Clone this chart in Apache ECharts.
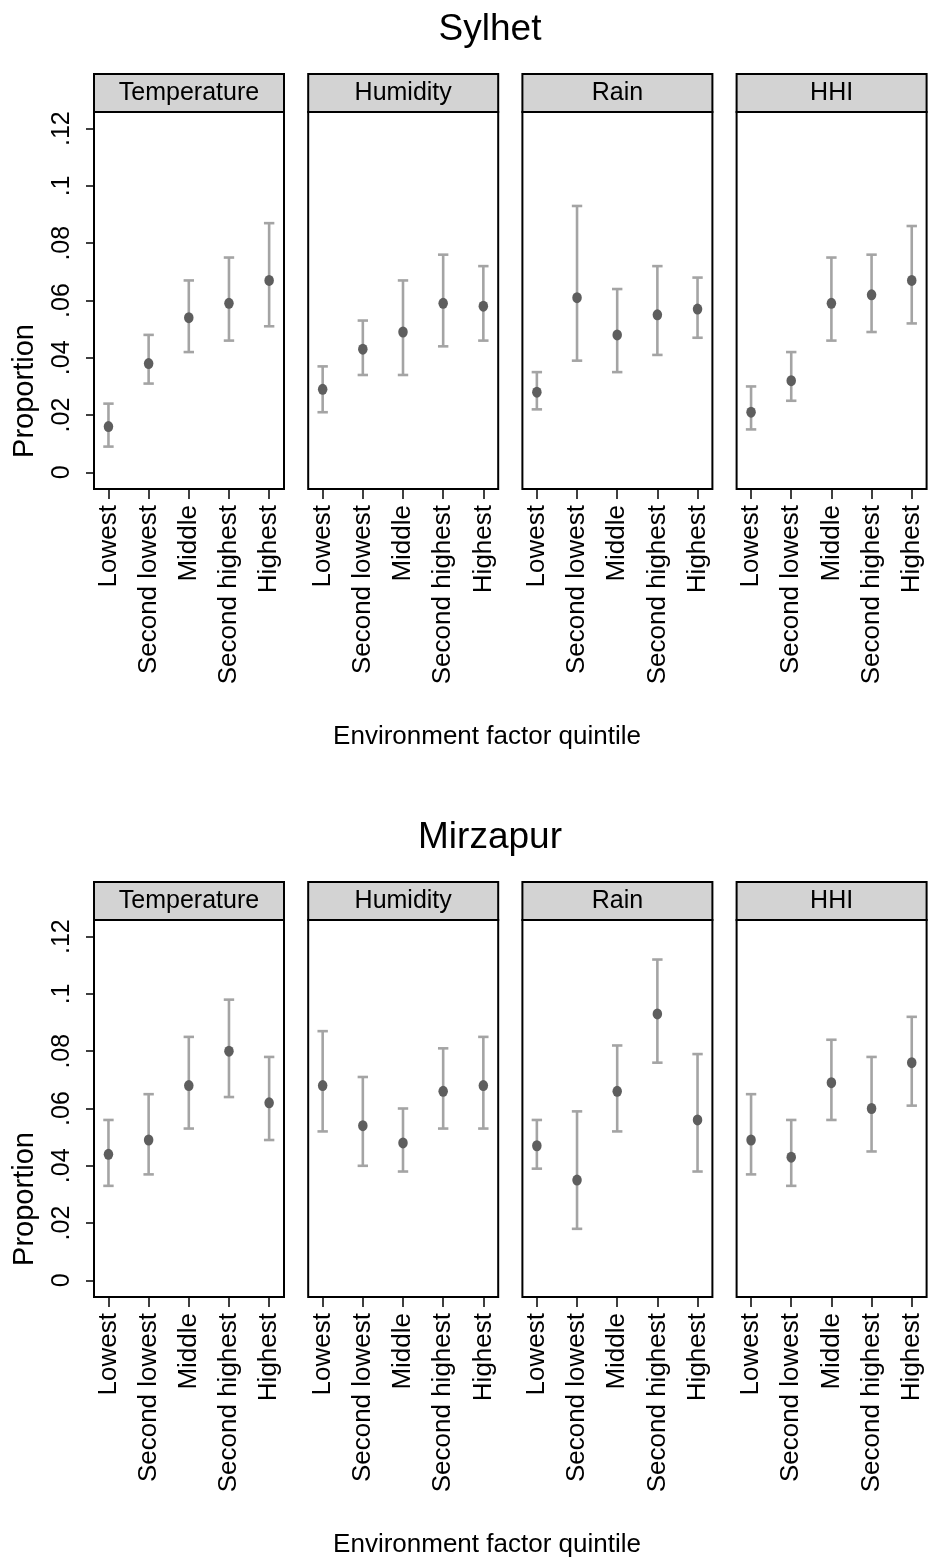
<!DOCTYPE html>
<html><head><meta charset="utf-8">
<script src="https://cdn.jsdelivr.net/npm/echarts@6/dist/echarts.min.js"></script>
<style>html,body{margin:0;padding:0;background:#fff}#c{width:932px;height:1557px}</style>
</head><body><div id="c"></div><script>
// ---------- data ----------
const categories = ['Lowest', 'Second lowest', 'Middle', 'Second highest', 'Highest'];
const factors = ['Temperature', 'Humidity', 'Rain', 'HHI'];
const regions = ['Sylhet', 'Mirzapur'];
const yTicks = [0, 0.02, 0.04, 0.06, 0.08, 0.1, 0.12];
const yTickLabels = ['0', '.02', '.04', '.06', '.08', '.1', '.12'];
const yTitle = 'Proportion';
const xTitle = 'Environment factor quintile';

// Sylhet
const sylTempEst = [0.016, 0.038, 0.054, 0.059, 0.067];
const sylTempLo  = [0.009, 0.031, 0.042, 0.046, 0.051];
const sylTempHi  = [0.024, 0.048, 0.067, 0.075, 0.087];
const sylHumEst  = [0.029, 0.043, 0.049, 0.059, 0.058];
const sylHumLo   = [0.021, 0.034, 0.034, 0.044, 0.046];
const sylHumHi   = [0.037, 0.053, 0.067, 0.076, 0.072];
const sylRainEst = [0.028, 0.061, 0.048, 0.055, 0.057];
const sylRainLo  = [0.022, 0.039, 0.035, 0.041, 0.047];
const sylRainHi  = [0.035, 0.093, 0.064, 0.072, 0.068];
const sylHhiEst  = [0.021, 0.032, 0.059, 0.062, 0.067];
const sylHhiLo   = [0.015, 0.025, 0.046, 0.049, 0.052];
const sylHhiHi   = [0.030, 0.042, 0.075, 0.076, 0.086];
// Mirzapur
const mirTempEst = [0.044, 0.049, 0.068, 0.080, 0.062];
const mirTempLo  = [0.033, 0.037, 0.053, 0.064, 0.049];
const mirTempHi  = [0.056, 0.065, 0.085, 0.098, 0.078];
const mirHumEst  = [0.068, 0.054, 0.048, 0.066, 0.068];
const mirHumLo   = [0.052, 0.040, 0.038, 0.053, 0.053];
const mirHumHi   = [0.087, 0.071, 0.060, 0.081, 0.085];
const mirRainEst = [0.047, 0.035, 0.066, 0.093, 0.056];
const mirRainLo  = [0.039, 0.018, 0.052, 0.076, 0.038];
const mirRainHi  = [0.056, 0.059, 0.082, 0.112, 0.079];
const mirHhiEst  = [0.049, 0.043, 0.069, 0.060, 0.076];
const mirHhiLo   = [0.037, 0.033, 0.056, 0.045, 0.061];
const mirHhiHi   = [0.065, 0.056, 0.084, 0.078, 0.092];

const panelData = [
  [[sylTempEst, sylTempLo, sylTempHi], [sylHumEst, sylHumLo, sylHumHi], [sylRainEst, sylRainLo, sylRainHi], [sylHhiEst, sylHhiLo, sylHhiHi]],
  [[mirTempEst, mirTempLo, mirTempHi], [mirHumEst, mirHumLo, mirHumHi], [mirRainEst, mirRainLo, mirRainHi], [mirHhiEst, mirHhiLo, mirHhiHi]]
];

// ---------- layout / style ----------
const FONT = "'Liberation Sans', Arial, Helvetica, sans-serif";
const panelLeft0 = 94, panelStep = 214.2, panelW = 190;
const sectionTop = [112, 920], plotH = 377, stripH = 38;
const sectionOffset = 808;
const yMin = -0.0058, yMax = 0.1258;
const xMin = 0.64, xMax = 5.37;
const barColor = '#a4a4a4', markColor = '#5e5e5e';

const grids = [], xAxes = [], yAxes = [], series = [], graphics = [];

regions.forEach((reg, r) => {
  const off = r * sectionOffset;
  graphics.push({type: 'text', x: 490, y: 30 + off, z: 10,
    style: {text: reg, font: '37px ' + FONT, fill: '#000', textAlign: 'center', textVerticalAlign: 'middle'}});
  graphics.push({type: 'text', x: 487, y: 737 + off, z: 10,
    style: {text: xTitle, font: '26px ' + FONT, fill: '#000', textAlign: 'center', textVerticalAlign: 'middle'}});
  graphics.push({type: 'text', x: 25, y: 391 + off, rotation: Math.PI / 2, z: 10,
    style: {text: yTitle, font: '29px ' + FONT, fill: '#000', textAlign: 'center', textVerticalAlign: 'middle'}});

  factors.forEach((f, c) => {
    const idx = r * 4 + c;
    const left = panelLeft0 + c * panelStep;
    const top = sectionTop[r];
    grids.push({left, top, width: panelW, height: plotH, show: true,
      borderColor: '#000', borderWidth: 2, backgroundColor: '#fff'});
    graphics.push({type: 'rect', z: 10,
      shape: {x: left, y: top - stripH, width: panelW, height: stripH},
      style: {fill: '#d3d3d3', stroke: '#000', lineWidth: 2}});
    graphics.push({type: 'text', z: 11, x: left + panelW / 2, y: top - stripH / 2,
      style: {text: f, font: '25px ' + FONT, fill: '#000', textAlign: 'center', textVerticalAlign: 'middle'}});

    xAxes.push({type: 'value', gridIndex: idx, min: xMin, max: xMax, position: 'bottom',
      axisLine: {show: false, onZero: false}, splitLine: {show: false},
      axisTick: {show: true, customValues: [1, 2, 3, 4, 5], length: 10, lineStyle: {color: '#000', width: 1.5}},
      axisLabel: {show: true, customValues: [1, 2, 3, 4, 5], rotate: 90, margin: 16,
        fontSize: 26, fontFamily: FONT, color: '#000',
        formatter: v => categories[Math.round(v) - 1] || ''}});
    yAxes.push({type: 'value', gridIndex: idx, min: yMin, max: yMax, position: 'left',
      axisLine: {show: false, onZero: false}, splitLine: {show: false},
      axisTick: {show: c === 0, customValues: yTicks, length: 8, lineStyle: {color: '#000', width: 1.5}},
      axisLabel: {show: c === 0, customValues: yTicks, rotate: 90, margin: 19,
        fontSize: 25, fontFamily: FONT, color: '#000',
        formatter: v => { const i = yTicks.findIndex(t => Math.abs(t - v) < 1e-9); return i >= 0 ? yTickLabels[i] : ''; }}});

    const [est, lo, hi] = panelData[r][c];
    series.push({type: 'custom', xAxisIndex: idx, yAxisIndex: idx, z: 2,
      data: lo.map((v, i) => [i + 1, v, hi[i]]),
      renderItem: (params, api) => {
        const x = api.value(0);
        const pLo = api.coord([x, api.value(1)]);
        const pHi = api.coord([x, api.value(2)]);
        const hw = 5.2;
        const st = {stroke: barColor, lineWidth: 2.6};
        return {type: 'group', children: [
          {type: 'line', shape: {x1: pLo[0], y1: pLo[1], x2: pHi[0], y2: pHi[1]}, style: st},
          {type: 'line', shape: {x1: pLo[0] - hw, y1: pLo[1], x2: pLo[0] + hw, y2: pLo[1]}, style: st},
          {type: 'line', shape: {x1: pHi[0] - hw, y1: pHi[1], x2: pHi[0] + hw, y2: pHi[1]}, style: st}
        ]};
      }});
    series.push({type: 'scatter', xAxisIndex: idx, yAxisIndex: idx, z: 3,
      symbol: 'circle', symbolSize: [9.5, 11],
      itemStyle: {color: markColor, opacity: 1},
      data: est.map((v, i) => [i + 1, v])});
  });
});

const chart = echarts.init(document.getElementById('c'), null, {renderer: 'canvas'});
chart.setOption({
  animation: false,
  backgroundColor: '#fff',
  grid: grids, xAxis: xAxes, yAxis: yAxes, series: series,
  graphic: graphics
});
</script></body></html>
